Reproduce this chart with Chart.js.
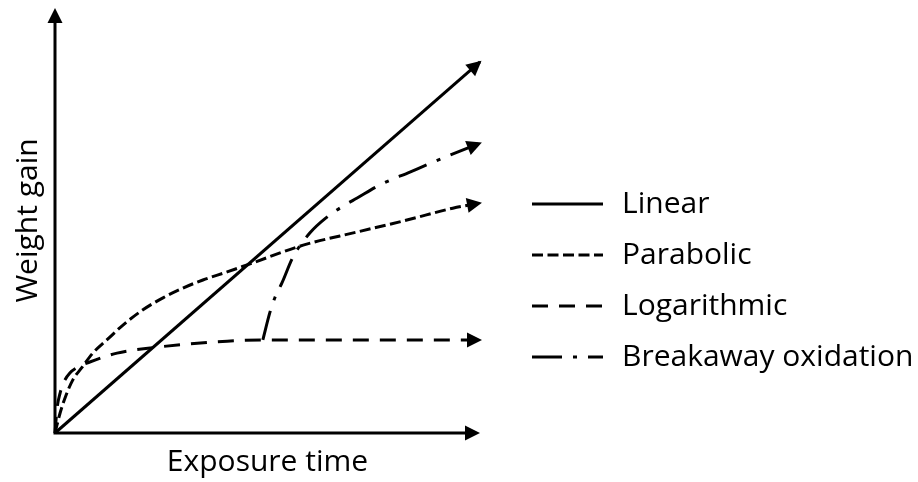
<!DOCTYPE html>
<html>
<head>
<meta charset="utf-8">
<script src="https://cdn.jsdelivr.net/npm/chart.js@4.4.1/dist/chart.umd.min.js"></script>
<style>
  html, body { margin: 0; padding: 0; background: #fff; }
  #wrap { width: 918px; height: 482px; }
</style>
</head>
<body>
<div id="wrap"><canvas id="chart"></canvas></div>
<script>
// Series (x = exposure time, y = weight gain, both 0-100)
const seriesNames = ['Linear', 'Parabolic', 'Logarithmic', 'Breakaway oxidation'];

const linearX = [0, 100];
const linearY = [0, 87.3];

const parabolicX = [0, 1.2, 2.6, 4.2, 6.4, 8.9, 12.2, 16.0, 20.7, 25.4, 30.1, 34.8, 40.5, 45.9, 58.4, 71.1, 82.8, 93.6, 100];
const parabolicY = [0, 4.7, 8.9, 12.5, 15.5, 18.8, 21.9, 25.4, 29.0, 31.8, 34.1, 36.0, 37.9, 39.8, 44.2, 47.3, 50.1, 52.9, 54.1];

const logX = [0, 0.5, 1.2, 2.1, 3.5, 5.4, 8.2, 14.6, 22.4, 31.1, 40.5, 48.9, 100];
const logY = [0, 5.9, 9.4, 12.0, 14.1, 15.5, 16.7, 18.8, 20.0, 20.9, 21.6, 21.9, 21.9];

const breakawayX = [48.9, 50.6, 51.8, 53.4, 56.0, 60.0, 64.0, 67.8, 71.1, 76.5, 83.5, 92.5, 100];
const breakawayY = [21.9, 28.5, 32.0, 35.3, 41.4, 47.1, 50.8, 53.4, 55.3, 58.4, 61.4, 65.2, 68.2];

const FONT = '"Open Sans", Lato, sans-serif';

function points(xs, ys) {
    return xs.map((x, i) => ({ x: x, y: ys[i] }));
}

function lineSet(label, xs, ys, dash, smooth) {
    return {
        label: label,
        data: points(xs, ys),
        borderColor: '#000',
        backgroundColor: '#000',
        borderWidth: 3,
        borderDash: dash,
        borderCapStyle: 'butt',
        pointRadius: 0,
        fill: false,
        clip: false,
        cubicInterpolationMode: smooth ? 'monotone' : 'default',
        tension: 0
    };
}

// filled arrow head with its tip at (x, y)
function arrowHead(ctx, x, y, angle, len, half) {
    ctx.save();
    ctx.translate(x, y);
    ctx.rotate(angle);
    ctx.beginPath();
    ctx.moveTo(0, 0);
    ctx.lineTo(-len, -half);
    ctx.lineTo(-len, half);
    ctx.closePath();
    ctx.fillStyle = '#000';
    ctx.fill();
    ctx.restore();
}

// axes with arrows, drawn from the scales
const axesPlugin = {
    id: 'arrowAxes',
    beforeDatasetsDraw(chart) {
        const ctx = chart.ctx;
        const xs = chart.scales.x, ys = chart.scales.y;
        const x0 = xs.getPixelForValue(0), x1 = xs.getPixelForValue(100);
        const y0 = ys.getPixelForValue(0), y1 = ys.getPixelForValue(100);
        ctx.save();
        ctx.strokeStyle = '#000';
        ctx.lineWidth = 3;
        ctx.beginPath();
        ctx.moveTo(x1 - 10, y0);
        ctx.lineTo(x0, y0);
        ctx.lineTo(x0, y1 + 10);
        ctx.stroke();
        ctx.restore();
        arrowHead(ctx, x1, y0, 0, 15, 7.5);
        arrowHead(ctx, x0, y1, -Math.PI / 2, 15, 7.5);
    },
    afterDatasetsDraw(chart) {
        const ctx = chart.ctx;
        chart.data.datasets.forEach((ds, i) => {
            const pts = chart.getDatasetMeta(i).data;
            const last = pts[pts.length - 1];
            const prev = pts[pts.length - 2];
            let cx = prev.x, cy = prev.y;
            if (last.cp1x !== undefined && Math.hypot(last.x - last.cp1x, last.y - last.cp1y) > 1) {
                cx = last.cp1x; cy = last.cp1y;
            }
            const a = Math.atan2(last.y - cy, last.x - cx);
            arrowHead(ctx, last.x + 2 * Math.cos(a), last.y + 2 * Math.sin(a), a, 15, 7.5);
        });
    }
};

// legend on the right: line sample + label
const sideLegend = {
    id: 'sideLegend',
    afterDraw(chart, args, opts) {
        const ctx = chart.ctx;
        ctx.save();
        ctx.font = opts.fontSize + 'px ' + FONT;
        ctx.textBaseline = 'middle';
        ctx.fillStyle = '#000';
        chart.data.datasets.forEach((ds, i) => {
            const y = opts.top + i * opts.rowGap;
            ctx.strokeStyle = '#000';
            ctx.lineWidth = ds.borderWidth;
            ctx.setLineDash(ds.borderDash || []);
            ctx.beginPath();
            ctx.moveTo(opts.left, y);
            ctx.lineTo(opts.left + opts.sampleWidth, y);
            ctx.stroke();
            ctx.setLineDash([]);
            ctx.fillText(ds.label, opts.left + opts.sampleWidth + opts.textGap, y);
        });
        ctx.restore();
    }
};

new Chart(document.getElementById('chart'), {
    type: 'line',
    data: {
        datasets: [
            lineSet(seriesNames[0], linearX, linearY, [], false),
            lineSet(seriesNames[1], parabolicX, parabolicY, [11, 4.5], true),
            lineSet(seriesNames[2], logX, logY, [16, 11], true),
            lineSet(seriesNames[3], breakawayX, breakawayY, [30, 11, 4, 11], true)
        ]
    },
    options: {
        responsive: true,
        maintainAspectRatio: false,
        animation: false,
        events: [],
        layout: { padding: { top: 8, right: 438, bottom: 0, left: 0 } },
        scales: {
            x: {
                type: 'linear',
                min: 0,
                max: 100,
                grid: { display: false, drawTicks: false },
                border: { display: false },
                ticks: { display: false },
                title: {
                    display: true,
                    text: 'Exposure time',
                    color: '#000',
                    font: { family: FONT, size: 30, lineHeight: 1.2 },
                    padding: { top: 11, bottom: 2 }
                }
            },
            y: {
                type: 'linear',
                min: 0,
                max: 100,
                grid: { display: false, drawTicks: false },
                border: { display: false },
                ticks: { display: false },
                title: {
                    display: true,
                    text: 'Weight gain',
                    color: '#000',
                    font: { family: FONT, size: 30, lineHeight: 1.2 },
                    padding: { top: 10.4, bottom: 8.6 }
                }
            }
        },
        plugins: {
            legend: { display: false },
            tooltip: { enabled: false },
            sideLegend: { left: 532, top: 204, rowGap: 51, sampleWidth: 71, textGap: 19, fontSize: 30 }
        }
    },
    plugins: [axesPlugin, sideLegend]
});
</script>
</body>
</html>
